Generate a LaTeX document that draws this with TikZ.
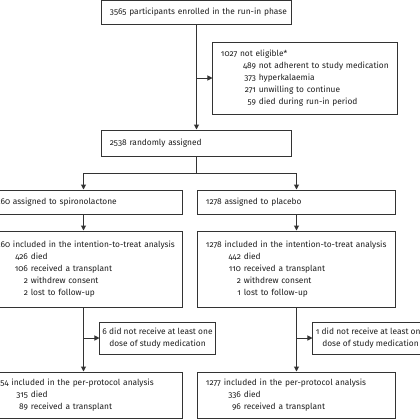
\documentclass[tikz,border=0pt]{standalone}
\usepackage{fontspec}
\setmainfont{Fira Sans}[Numbers=OldStyle]
\usetikzlibrary{arrows.meta}

% one indented line of a breakdown: number right-aligned, then the reason
\newcommand{\reason}[2]{\mbox{\makebox[35bp][r]{#1}\ #2}}

\definecolor{linegray}{gray}{0.2}
\definecolor{inkgray}{gray}{0.12}

\begin{document}
\begin{tikzpicture}[x=1bp, y=-1bp,
    every node/.style={font=\fontsize{8.4}{12}\selectfont, text=inkgray},
    box/.style={draw=linegray, line width=1bp, inner xsep=8bp, inner ysep=0pt, align=left},
    note/.style={draw=linegray, line width=1bp, inner sep=0pt, align=center,
        minimum width=115bp, minimum height=32bp},
    arr/.style={draw=linegray, line width=1bp, -{Triangle[length=5bp,width=5bp]}}]

    % Fix the frame and cut what lies outside it
    \useasboundingbox (0,0) rectangle (420,420);
    \fill[white] (0,0) rectangle (420,420);
    \clip (0,0) rectangle (420,420);

    % Run-in phase
    \node[box, text width=173bp, minimum height=23.5bp] (enrol) at (196.5,12.5)
        {\mbox{3565 participants enrolled in the run-in phase}};
    \node[box, text width=168bp, minimum height=72bp] (excl) at (305,78)
        {\mbox{1027 not eligible*}\\
         \reason{489}{not adherent to study medication}\\
         \reason{373}{hyperkalaemia}\\
         \reason{271}{unwilling to continue}\\
         \reason{59}{died during run-in period}};
    \node[box, text width=173bp, minimum height=26bp] (rand) at (196.5,143)
        {\mbox{2538 randomly assigned}};

    % Allocation
    \node[box, text width=181bp, minimum height=24.5bp] (spiro) at (83.5,202.25)
        {\mbox{1260 assigned to spironolactone}};
    \node[box, text width=181bp, minimum height=24.5bp] (plac) at (296.5,202.25)
        {\mbox{1278 assigned to placebo}};

    % Intention-to-treat analysis
    \node[box, text width=181bp, minimum height=76bp] (itt1) at (83.5,269)
        {\mbox{1260 included in the intention-to-treat analysis}\\
         \reason{426}{died}\\
         \reason{106}{received a transplant}\\
         \reason{2}{withdrew consent}\\
         \reason{2}{lost to follow-up}};
    \node[box, text width=181bp, minimum height=76bp] (itt2) at (296.5,269)
        {\mbox{1278 included in the intention-to-treat analysis}\\
         \reason{442}{died}\\
         \reason{110}{received a transplant}\\
         \reason{2}{withdrew consent}\\
         \reason{1}{lost to follow-up}};

    % Excluded from the per-protocol analysis
    \node[note] (drop1) at (157.5,338)
        {6 did not receive at least one\\dose of study medication};
    \node[note] (drop2) at (370.5,338)
        {1 did not receive at least one\\dose of study medication};

    % Per-protocol analysis
    \node[box, text width=181bp, minimum height=46bp] (pp1) at (83.5,395)
        {\mbox{1254 included in the per-protocol analysis}\\
         \reason{315}{died}\\
         \reason{89}{received a transplant}};
    \node[box, text width=181bp, minimum height=46bp] (pp2) at (296.5,395)
        {\mbox{1277 included in the per-protocol analysis}\\
         \reason{336}{died}\\
         \reason{96}{received a transplant}};

    % Branch points on the vertical lines
    \coordinate (j0) at (enrol.south |- excl.west);
    \coordinate (split) at (196.5,173);
    \coordinate (j1) at (itt1.south |- drop1.west);
    \coordinate (j2) at (itt2.south |- drop2.west);

    % Connectors
    \draw[arr] (enrol) -- (rand);
    \draw[arr] (j0) -- (excl.west);
    \draw[draw=linegray, line width=1bp] (rand) -- (split);
    \draw[arr] (split) -| (spiro.north);
    \draw[arr] (split) -| (plac.north);
    \draw[arr] (spiro) -- (itt1);
    \draw[arr] (plac) -- (itt2);
    \draw[arr] (itt1) -- (pp1);
    \draw[arr] (itt2) -- (pp2);
    \draw[arr] (j1) -- (drop1.west);
    \draw[arr] (j2) -- (drop2.west);

\end{tikzpicture}
\end{document}
